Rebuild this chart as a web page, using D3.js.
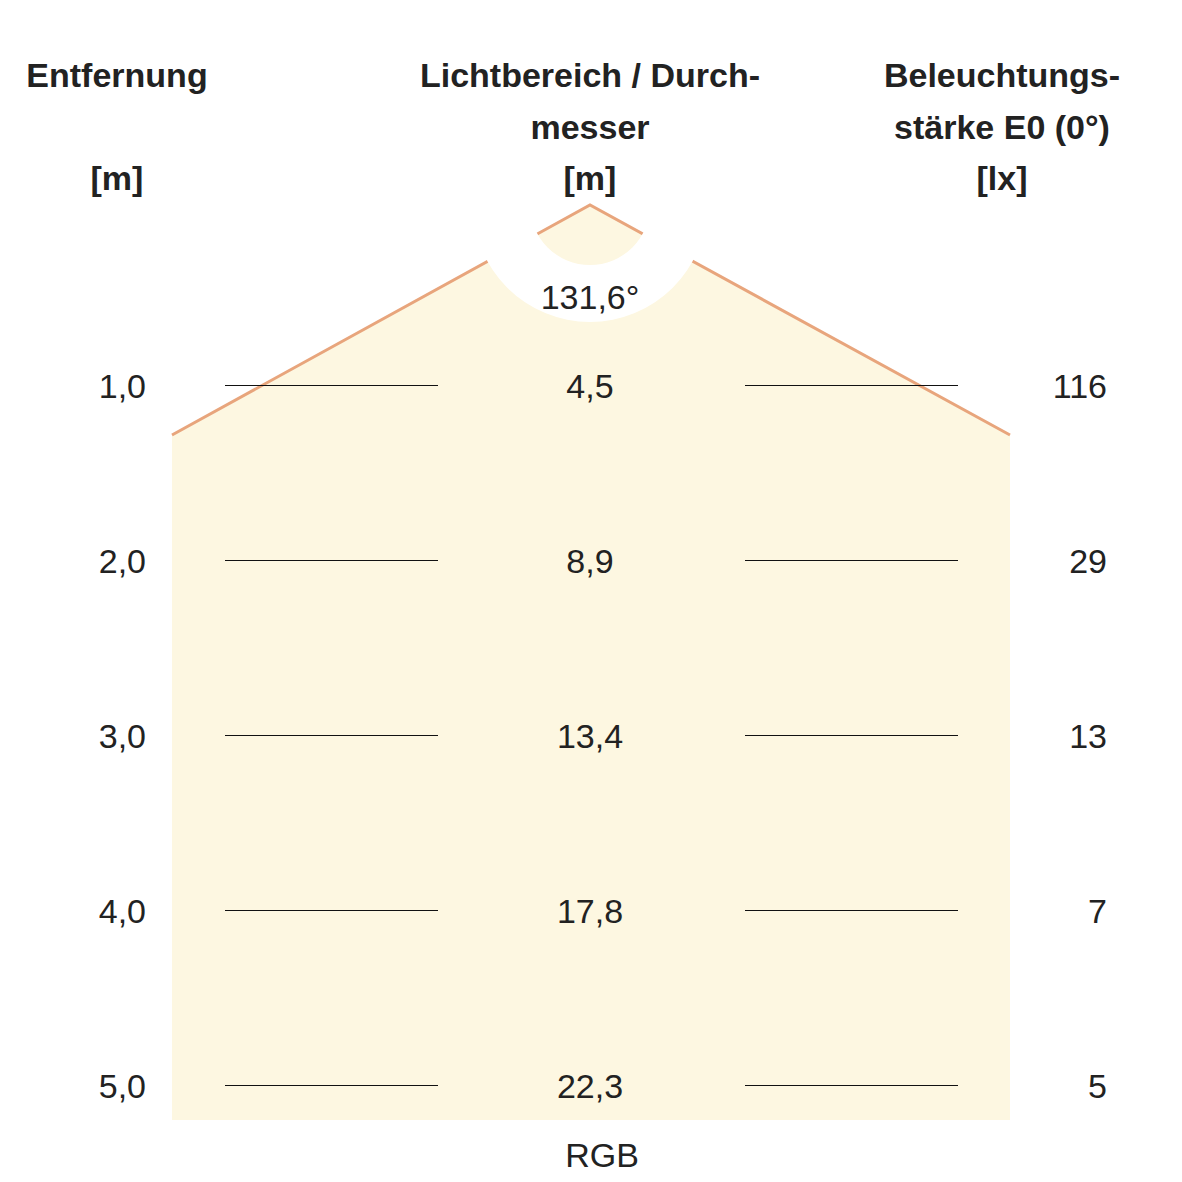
<!DOCTYPE html><html><head><meta charset="utf-8">
<script src="https://cdn.jsdelivr.net/npm/d3@7"></script>
<style>body{margin:0;background:#fff}text{font-family:"Liberation Sans Narrow","Arial Narrow","Liberation Sans",sans-serif}</style>
</head><body><svg id="c" width="1182" height="1182"></svg>
<script>
const distances=["1,0","2,0","3,0","4,0","5,0"];
const distValues=[1,2,3,4,5];
const diameters=["4,5","8,9","13,4","17,8","22,3"];
const illuminance=["116","29","13","7","5"];
const beamAngle="131,6°";
const label="RGB";

const svg=d3.select("#c");
const y=d3.scaleLinear().domain([1,5]).range([385,1085]);
const apex=[590,205];
svg.append("path").attr("d",`M${apex}L172,435L172,1120L1010,1120L1010,435Z`).attr("fill","#fdf7e1");
svg.append("path").attr("d",`M172,435L${apex}L1010,435`).attr("fill","none").attr("stroke","#e8a57c").attr("stroke-width",3);
const arc=d3.arc().innerRadius(60).outerRadius(117).startAngle(0).endAngle(2*Math.PI);
svg.append("path").attr("d",arc()).attr("transform",`translate(${apex})`).attr("fill","#fff");

const hdr=svg.append("g").attr("font-size",34).attr("font-weight","bold").attr("fill","#222").attr("text-anchor","middle");
[["Entfernung",117,87],["[m]",117,190],["Lichtbereich / Durch-",590,87],["messer",590,139],["[m]",590,190],
 ["Beleuchtungs-",1002,87],["stärke E0 (0°)",1002,139],["[lx]",1002,190]].forEach(d=>hdr.append("text").attr("x",d[1]).attr("y",d[2]).text(d[0]));

svg.append("text").attr("x",590).attr("y",309).attr("text-anchor","middle").attr("font-size",34).attr("fill","#222").text(beamAngle);

const rows=svg.append("g").attr("font-size",34).attr("fill","#222");
distValues.forEach((v,i)=>{
  const yy=Math.round(y(v))+0.5;
  rows.append("text").attr("x",146).attr("y",yy+12).attr("text-anchor","end").text(distances[i]);
  rows.append("text").attr("x",590).attr("y",yy+12).attr("text-anchor","middle").text(diameters[i]);
  rows.append("text").attr("x",1107).attr("y",yy+12).attr("text-anchor","end").text(illuminance[i]);
  [[225,438],[745,958]].forEach(s=>rows.append("line").attr("x1",s[0]).attr("x2",s[1]).attr("y1",yy).attr("y2",yy).attr("stroke","#111").attr("stroke-width",1).attr("shape-rendering","crispEdges"));
});
svg.append("text").attr("x",602).attr("y",1167).attr("text-anchor","middle").attr("font-size",34).attr("fill","#222").text(label);
</script></body></html>
